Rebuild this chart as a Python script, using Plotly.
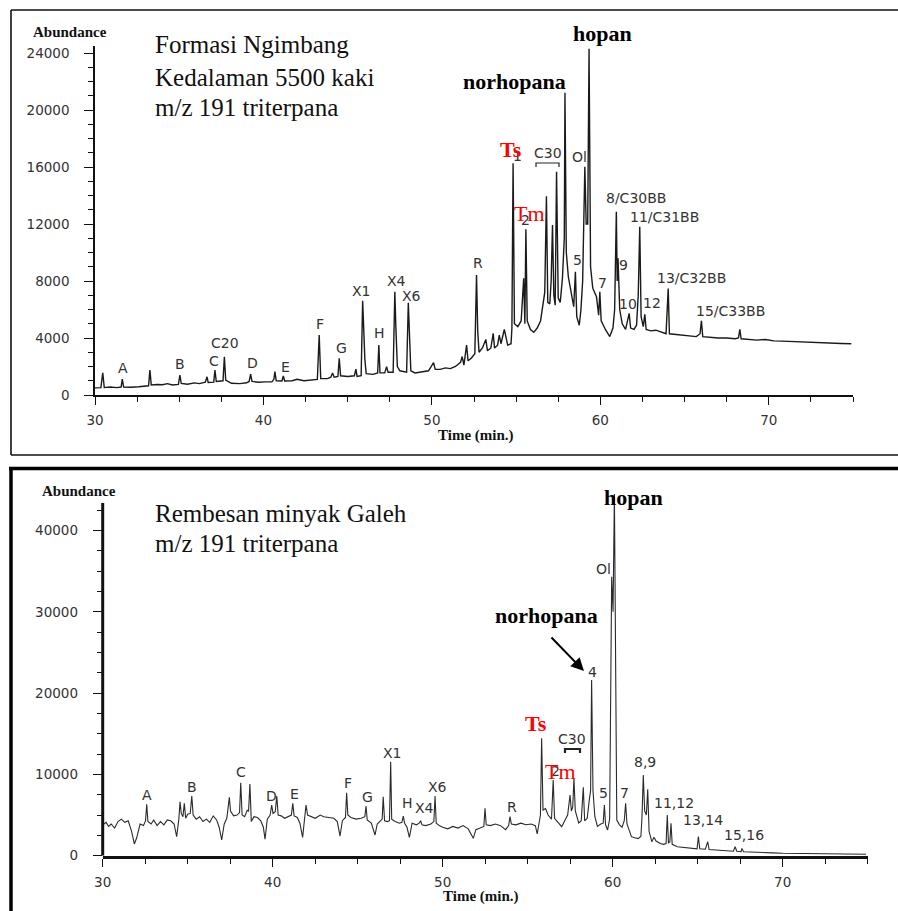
import plotly.graph_objects as go

W, H = 898, 911

# ---------------- data: top chromatogram (Formasi Ngimbang) ----------------
TOP_TIME = [30.0, 30.35, 30.46, 30.55, 30.9, 31.3, 31.55, 31.62, 31.7, 32.1, 32.6, 33.0, 33.18, 33.26, 33.34,
            33.7, 34.0, 34.3, 34.6, 34.95, 35.04, 35.12, 35.5, 35.9, 36.2, 36.55, 36.65, 36.72, 37.05, 37.12,
            37.2, 37.6, 37.68, 37.76, 38.1, 38.6, 39.0, 39.15, 39.24, 39.32, 39.7, 40.1, 40.5, 40.62, 40.68,
            40.76, 41.1, 41.18, 41.26, 41.7, 42.0, 42.4, 42.8, 43.2, 43.31, 43.4, 43.8, 44.0, 44.1, 44.2,
            44.42, 44.5, 44.58, 45.0, 45.4, 45.49, 45.56, 45.8, 45.89, 45.95, 46.02, 46.1, 46.5, 46.78, 46.85,
            46.92, 47.2, 47.31, 47.4, 47.7, 47.8, 47.86, 47.95, 48.1, 48.5, 48.6, 48.66, 48.75, 49.0, 49.4,
            49.8, 50.1, 50.2, 50.5, 50.8, 51.1, 51.4, 51.7, 51.8, 51.9, 52.06, 52.15, 52.35, 52.55, 52.65,
            52.72, 52.8, 53.0, 53.2, 53.3, 53.5, 53.64, 53.72, 53.9, 54.0, 54.1, 54.3, 54.5, 54.7, 54.75,
            54.82, 54.9, 55.1, 55.3, 55.45, 55.52, 55.58, 55.66, 55.85, 56.05, 56.25, 56.45, 56.6, 56.7, 56.8,
            56.88, 57.0, 57.08, 57.16, 57.24, 57.32, 57.4, 57.5, 57.62, 57.75, 57.86, 57.9, 57.98, 58.1, 58.3,
            58.42, 58.52, 58.6, 58.75, 58.85, 58.95, 59.08, 59.16, 59.25, 59.33, 59.42, 59.55, 59.77, 59.9, 59.97,
            60.05, 60.3, 60.56, 60.75, 60.85, 60.95, 61.0, 61.05, 61.15, 61.3, 61.5, 61.62, 61.71, 61.8, 62.0,
            62.15, 62.25, 62.34, 62.42, 62.55, 62.64, 62.72, 63.0, 63.3, 63.6, 63.9, 64.03, 64.1, 64.5, 64.9,
            65.3, 65.7, 65.92, 66.0, 66.08, 66.5, 67.0, 67.5, 68.0, 68.2, 68.28, 68.36, 68.8, 69.3, 69.8,
            70.3, 70.8, 71.3, 71.8, 72.3, 72.8, 73.3, 73.8, 74.3, 74.9]
TOP_ABUND = [500, 520, 1560, 520, 560, 520, 560, 1120, 560, 540, 580, 600, 650, 1750, 700,
             740, 720, 800, 700, 750, 1400, 820, 760, 850, 800, 900, 1280, 880, 900, 1750,
             950, 1000, 2690, 1050, 820, 800, 860, 950, 1470, 950, 900, 920, 920, 1100, 1640,
             1000, 980, 1330, 980, 1000, 1100, 1000, 1050, 1100, 4210, 1150, 1150, 1250, 1540, 1250,
             1300, 2570, 1350, 1300, 1350, 1820, 1300, 1350, 6620, 4000, 2500, 1500, 1450, 1550, 3510,
             1550, 1550, 1990, 1600, 1600, 7250, 4800, 2000, 1700, 1600, 6480, 5000, 1700, 1550, 1600,
             1700, 2270, 1800, 1800, 1900, 1850, 2000, 2300, 2700, 2100, 3500, 2400, 2600, 2900, 8420,
             4500, 3000, 3300, 3900, 3100, 3300, 4330, 3300, 3500, 4200, 3600, 4600, 3500, 3600, 4700,
             16260, 5000, 4800, 5200, 8200, 5000, 11630, 5200, 4600, 4400, 4700, 5200, 6500, 7200, 13960,
             6500, 6400, 8000, 11930, 7000, 6300, 15670, 6800, 6500, 8200, 11000, 21210, 10000, 8300, 7000,
             6200, 8650, 5500, 4900, 6000, 8000, 16020, 12000, 12000, 24300, 9000, 7500, 6900, 5600, 7250,
             5200, 4600, 4100, 4700, 6000, 12860, 8000, 9590, 6000, 5000, 4600, 5200, 5730, 4700, 4600,
             4900, 7000, 11810, 5500, 4800, 5660, 4600, 4500, 4550, 4400, 4300, 7480, 4300, 4250, 4200,
             4150, 4100, 4300, 5210, 4100, 4050, 4000, 4000, 3950, 4000, 4600, 3950, 3900, 3850, 3900,
             3800, 3780, 3750, 3720, 3700, 3680, 3650, 3650, 3620, 3600]

# ---------------- data: bottom chromatogram (Rembesan minyak Galeh) ----------------
BOT_TIME = [30.0, 30.2, 30.35, 30.5, 30.7, 30.9, 31.1, 31.3, 31.5, 31.7, 31.86, 32.0, 32.2, 32.4, 32.52,
            32.59, 32.66, 32.85, 33.0, 33.2, 33.4, 33.6, 33.8, 34.0, 34.2, 34.35, 34.48, 34.55, 34.62, 34.72,
            34.8, 34.88, 35.0, 35.15, 35.24, 35.32, 35.5, 35.7, 35.9, 36.1, 36.3, 36.5, 36.7, 36.85, 37.0,
            37.15, 37.3, 37.45, 37.52, 37.7, 37.9, 38.05, 38.12, 38.2, 38.35, 38.5, 38.58, 38.66, 38.74, 38.9,
            39.1, 39.3, 39.45, 39.55, 39.68, 39.85, 39.94, 40.02, 40.15, 40.24, 40.32, 40.5, 40.7, 40.9, 41.1,
            41.18, 41.26, 41.45, 41.6, 41.76, 41.88, 41.96, 42.05, 42.3, 42.5, 42.8, 43.0, 43.3, 43.6, 43.8,
            43.96, 44.1, 44.28, 44.35, 44.42, 44.6, 44.9, 45.2, 45.42, 45.49, 45.56, 45.8, 46.02, 46.15, 46.35,
            46.44, 46.5, 46.58, 46.75, 46.87, 46.94, 47.0, 47.2, 47.45, 47.6, 47.68, 47.76, 47.9, 48.04, 48.2,
            48.45, 48.62, 48.7, 48.78, 49.0, 49.3, 49.48, 49.55, 49.62, 49.8, 50.0, 50.3, 50.6, 50.9, 51.2,
            51.5, 51.8, 51.95, 52.2, 52.42, 52.49, 52.56, 52.8, 53.1, 53.4, 53.7, 53.88, 53.96, 54.04, 54.3,
            54.6, 54.9, 55.2, 55.45, 55.56, 55.7, 55.75, 55.82, 55.9, 56.05, 56.2, 56.4, 56.5, 56.58, 56.8,
            57.0, 57.2, 57.35, 57.49, 57.57, 57.65, 57.72, 57.8, 58.0, 58.15, 58.27, 58.35, 58.5, 58.62, 58.7,
            58.76, 58.84, 58.95, 59.1, 59.3, 59.44, 59.51, 59.58, 59.7, 59.82, 59.94, 60.02, 60.1, 60.18, 60.24,
            60.4, 60.55, 60.68, 60.76, 60.84, 61.0, 61.1, 61.3, 61.5, 61.66, 61.72, 61.8, 61.88, 61.98, 62.06,
            62.14, 62.3, 62.43, 62.55, 62.8, 63.0, 63.14, 63.21, 63.28, 63.36, 63.43, 63.5, 63.8, 64.2, 64.6,
            64.96, 65.04, 65.12, 65.45, 65.59, 65.67, 66.0, 66.5, 67.1, 67.2, 67.3, 67.55, 67.6, 67.7, 68.2,
            68.8, 69.4, 70.0, 70.6, 71.2, 71.8, 72.4, 73.0, 73.6, 74.2, 74.9]
BOT_ABUND = [3780, 4100, 3600, 3900, 3400, 4200, 4500, 4100, 4300, 3000, 1440, 2200, 3900, 3700, 4300,
             6320, 4200, 3900, 4400, 3700, 4200, 3800, 4400, 4300, 3900, 2340, 4500, 6640, 5200, 4800,
             6440, 4600, 5100, 5200, 7340, 5000, 4500, 4800, 4200, 4500, 4100, 4900, 4400, 3500, 1930,
             3900, 4600, 7180, 5500, 4900, 5000, 5300, 8980, 5000, 4800, 5600, 5500, 8820, 4200, 4800,
             4700, 4300, 3500, 2020, 4500, 5000, 6240, 5200, 5400, 7340, 5000, 4900, 4600, 4800, 5000,
             6440, 4900, 4700, 4000, 2260, 4500, 6240, 5000, 4800, 4600, 5000, 4800, 4700, 4600, 4200,
             2420, 4300, 4700, 7750, 5000, 4700, 4500, 4600, 4800, 6110, 4400, 4000, 2550, 3900, 4300,
             4500, 7260, 4300, 4200, 4300, 11560, 4500, 4200, 4000, 4100, 4880, 4000, 3500, 2260, 4000,
             3800, 4000, 4300, 3800, 3700, 3900, 4200, 7340, 4000, 3700, 3500, 3300, 3600, 3400, 3700,
             3300, 2140, 3200, 3400, 3600, 5830, 3800, 3700, 3900, 3700, 3200, 3700, 4800, 3900, 3800,
             4000, 3800, 3900, 3700, 2670, 4200, 5000, 14440, 5620, 5800, 5000, 4500, 9310, 4600, 4000,
             3570, 4400, 5000, 7470, 5500, 6000, 9520, 5500, 4020, 4300, 8410, 4300, 4600, 6800, 8000,
             21610, 8000, 4800, 3600, 3900, 4000, 6240, 3800, 3160, 4500, 34320, 30000, 44500, 12000, 4390,
             3800, 3500, 4300, 6440, 3900, 3000, 2340, 2200, 2100, 2400, 4600, 9930, 5500, 5000, 8160,
             3000, 1720, 2260, 1800, 1500, 1400, 1500, 5000, 1600, 1700, 3980, 1400, 1110, 1000, 900,
             850, 2340, 850, 800, 1720, 750, 700, 600, 550, 1100, 550, 500, 900, 480, 420,
             380, 350, 300, 290, 260, 240, 220, 210, 200, 190, 180]

X_TICKS = [30, 40, 50, 60, 70]
TOP_Y_TICKS = [0, 4000, 8000, 12000, 16000, 20000, 24000]
BOT_Y_TICKS = [0, 10000, 20000, 30000, 40000]
BOT_AXIS_TOP = 43400

# peak labels: (text, x_px, y_px)
TOP_LABELS = [("A", 123, 368), ("B", 180, 364), ("C", 214, 361), ("C20", 225, 343), ("D", 252, 363),
              ("E", 285, 367), ("F", 320, 324), ("G", 341, 348), ("X1", 361, 291), ("H", 379, 333),
              ("X4", 396, 281), ("X6", 411, 296), ("R", 478, 263), ("C30", 548, 153), ("Ol", 579, 157),
              ("8/C30BB", 636, 198), ("11/C31BB", 664, 217), ("5", 577, 260), ("9", 623, 265),
              ("7", 602, 283), ("10", 628, 304), ("12", 652, 303), ("13/C32BB", 691, 278),
              ("15/C33BB", 730, 311), ("1", 517, 156), ("2", 525, 220)]
BOT_LABELS = [("A", 147, 795), ("B", 192, 787), ("C", 241, 772), ("D", 271, 796), ("E", 294, 794),
              ("F", 348, 783), ("G", 367, 797), ("X1", 392, 753), ("H", 407, 803), ("X4", 424, 808),
              ("X6", 437, 787), ("R", 512, 807), ("C30", 572, 739), ("2", 555, 771), ("5", 603, 793),
              ("7", 624, 793), ("8,9", 645, 762), ("11,12", 674, 803), ("13,14", 703, 820),
              ("15,16", 744, 835), ("4", 592, 672), ("Ol", 603, 569)]


def px(x):
    return x / W


def py(y):
    return 1 - y / H


fig = go.Figure()
fig.add_trace(go.Scatter(x=TOP_TIME, y=TOP_ABUND, mode="lines", xaxis="x", yaxis="y",
                         line=dict(color="#1a1a1a", width=1.4), hoverinfo="skip", showlegend=False))
fig.add_trace(go.Scatter(x=BOT_TIME, y=BOT_ABUND, mode="lines", xaxis="x2", yaxis="y2",
                         line=dict(color="#2a2a2a", width=1.1), hoverinfo="skip", showlegend=False))

tickfont = dict(family="DejaVu Sans", size=13.5, color="#333333")


def xaxis_cfg(domain, anchor, lw):
    return dict(domain=domain, anchor=anchor, range=[30, 75], tickvals=X_TICKS,
                ticks="outside", ticklen=8, tickwidth=1.3, tickcolor="#111",
                showline=True, linecolor="#111", linewidth=lw, showgrid=False, zeroline=False,
                tickfont=tickfont, ticklabelstandoff=4, tickformat="d", automargin=False,
                minor=dict(dtick=2.5, tick0=30, ticks="outside", ticklen=5, tickwidth=1.2,
                           tickcolor="#111", showgrid=False))


def yaxis_cfg(domain, anchor, rng, tv, mdt, lw, showline=True):
    return dict(domain=domain, anchor=anchor, range=rng, tickvals=tv,
                ticks="outside", ticklen=9, tickwidth=1.3, tickcolor="#111",
                showline=showline, linecolor="#111", linewidth=lw, showgrid=False, zeroline=False,
                tickfont=tickfont, ticklabelstandoff=12, tickformat="d", automargin=False,
                minor=dict(dtick=mdt, tick0=0, ticks="outside", ticklen=5, tickwidth=1.2,
                           tickcolor="#111", showgrid=False))


fig.update_layout(
    width=W, height=H, autosize=False,
    margin=dict(l=0, r=0, t=0, b=0, pad=0, autoexpand=False),
    paper_bgcolor="white", plot_bgcolor="white",
    showlegend=False,
    xaxis=xaxis_cfg([px(95), px(853)], "y", 1.6),
    yaxis=yaxis_cfg([py(395), py(46)], "x", [0, 24500], TOP_Y_TICKS, 1000, 1.6),
    xaxis2=xaxis_cfg([px(102.7), px(867.7)], "y2", 3),
    yaxis2=yaxis_cfg([py(855.7), py(491.5)], "x2", [0, 44800], BOT_Y_TICKS, 2500, 3, showline=False),
)

ann = []


def text(t, x, y, size, family="DejaVu Sans", color="#333333", bold=False, xanchor="center"):
    s = f"<b>{t}</b>" if bold else t
    ann.append(dict(text=s, x=px(x), y=py(y), xref="paper", yref="paper", showarrow=False,
                    xanchor=xanchor, yanchor="middle",
                    font=dict(family=family, size=size, color=color)))


for t, x, y in TOP_LABELS + BOT_LABELS:
    text(t, x, y, 14)

serif = "Liberation Serif"
# panel titles
text("Formasi Ngimbang", 153, 45, 25, serif, "#111", xanchor="left")
text("Kedalaman 5500 kaki", 153, 77, 25, serif, "#111", xanchor="left")
text("m/z 191 triterpana", 153, 107, 25, serif, "#111", xanchor="left")
text("Rembesan minyak Galeh", 153, 513, 25, serif, "#111", xanchor="left")
text("m/z 191 triterpana", 153, 543, 25, serif, "#111", xanchor="left")

# axis captions
text("Abundance", 70, 32, 15, serif, "#111", bold=True)
text("Abundance", 79, 491, 15, serif, "#111", bold=True)
text("Time (min.)", 476, 435, 15, serif, "#111", bold=True)
text("Time (min.)", 481, 896, 15, serif, "#111", bold=True)

# compound names
text("hopan", 602, 33, 22, serif, "#000", bold=True)
text("norhopana", 514, 81, 22, serif, "#000", bold=True)
text("hopan", 633, 497, 22, serif, "#000", bold=True)
text("norhopana", 546, 615, 22, serif, "#000", bold=True)
text("Ts", 511, 149, 22, serif, "#ff0000", bold=True)
text("Tm", 529, 213, 22, serif, "#ff0000")
text("Ts", 536, 723, 22, serif, "#ff0000", bold=True)
text("Tm", 560, 771, 22, serif, "#ff0000")

# arrow to norhopana peak (bottom)
ann.append(dict(text="", x=px(584), y=py(671), xref="paper", yref="paper", showarrow=True,
                ax=-34, ay=-35, arrowhead=2, arrowsize=1.3, arrowwidth=2, arrowcolor="#000",
                standoff=0))

fig.update_layout(annotations=ann)

shapes = []


def line(x0, y0, x1, y1, w, c="#111"):
    shapes.append(dict(type="line", xref="paper", yref="paper", x0=px(x0), y0=py(y0),
                       x1=px(x1), y1=py(y1), line=dict(color=c, width=w)))


# panel frames
line(11, 10, 898, 10, 1.6)
line(11, 10, 11, 455, 1.6)
line(11, 455, 898, 455, 1.6)
line(9, 468.5, 898, 468.5, 3.5, "#000")
line(11, 468, 11, 911, 3.5, "#000")

# bottom y-axis line (stops below the top of the plotting range, like the original)
shapes.append(dict(type="line", xref="x2 domain", yref="y2", x0=0, x1=0, y0=0, y1=BOT_AXIS_TOP,
                   line=dict(color="#111", width=3)))


def bracket(x0, x1, y0, y1, w):
    shapes.append(dict(type="path", xref="paper", yref="paper",
                       path=f"M {px(x0)},{py(y1)} L {px(x0)},{py(y0)} L {px(x1)},{py(y0)} L {px(x1)},{py(y1)}",
                       line=dict(color="#222", width=w)))


bracket(536, 559, 163, 167, 1.2)
bracket(565, 580, 749, 753, 2.2)

fig.update_layout(shapes=shapes)

POST = """
var de=document.documentElement, b=document.body;
de.style.margin='0';de.style.padding='0';de.style.overflow='hidden';
b.style.margin='0';b.style.padding='0';b.style.overflow='hidden';
"""

fig.write_html("out.html", config={"displayModeBar": False}, post_script=POST)
